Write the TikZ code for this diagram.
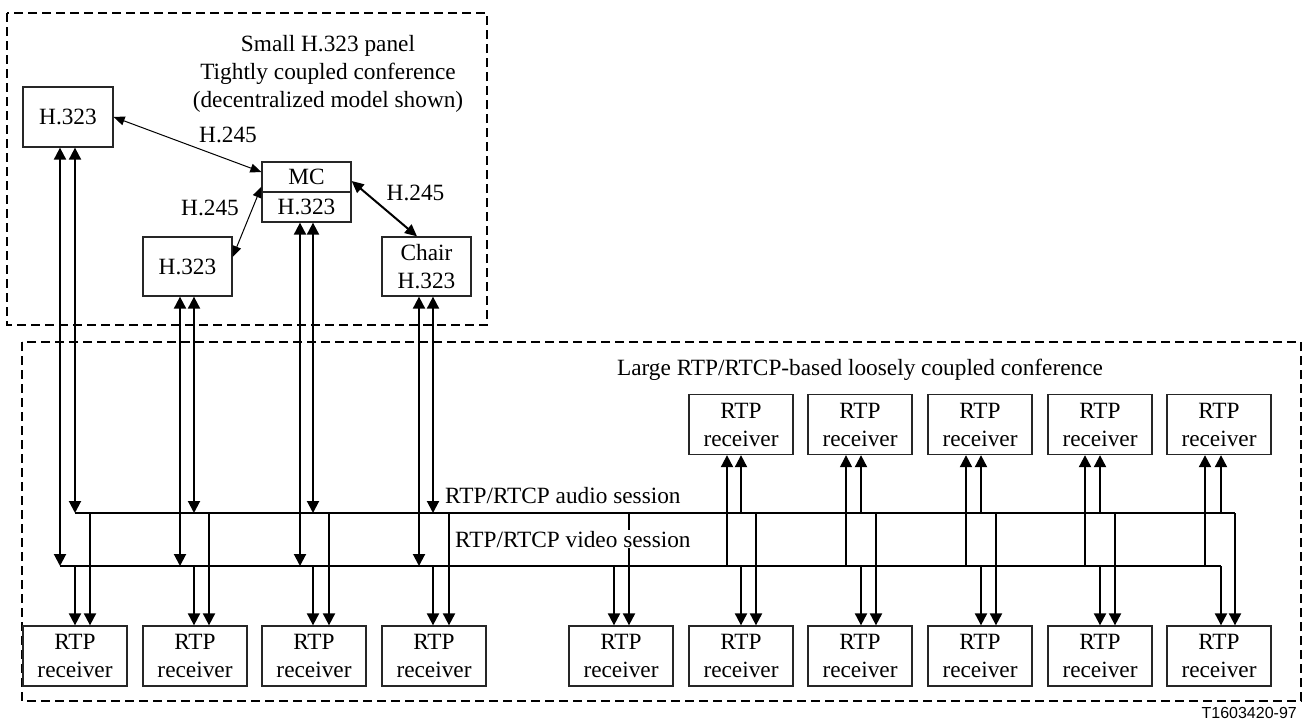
\documentclass[tikz,border=0pt]{standalone}
\usepackage{fontspec}
\setmainfont{Liberation Serif}
\newfontfamily\labelsans{Liberation Sans}
\usetikzlibrary{arrows.meta,calc}
\tikzset{
  box/.style={draw=black!85, line width=1.3pt, inner sep=0pt, align=center},
  hbox/.style={box, minimum width=89pt, minimum height=59pt},
  rbox/.style={box, minimum width=104pt, minimum height=60pt},
  panel/.style={draw=black, line width=2pt, dash pattern=on 9pt off 5pt},
  sline/.style={draw=black, line width=2pt},
  tipA/.tip={Triangle[length=12pt,width=12pt]},
  dbl/.style={sline, tipA-tipA},
  down/.style={sline, -tipA},
  thinarr/.style={draw=black, line width=1pt, {Triangle[length=11pt,width=9pt]}-{Triangle[length=11pt,width=9pt]}},
  medarr/.style={draw=black, line width=2pt, {Triangle[length=12pt,width=11pt]}-{Triangle[length=12pt,width=11pt]}},
  lbl/.style={inner sep=0pt}
}
\begin{document}
\begin{tikzpicture}[x=1pt,y=-1pt,font=\fontsize{23.3}{28}\selectfont]
\useasboundingbox (0,0) rectangle (1305,720);
% panels
\draw[panel] (7,13) rectangle (487,325);
\draw[panel] (22,342) rectangle (1301,701);
% titles
\node[lbl, align=center, anchor=base] (ttl) at (328,107) {Small H.323 panel\\Tightly coupled conference\\(decentralized model shown)};
\node[lbl, anchor=base] (ttl2) at (860,375) {Large RTP/RTCP-based loosely coupled conference};
% H.323 boxes
\node[box, minimum width=90pt, minimum height=60pt] (h1) at (68,117) {H.323};
\node[box, minimum width=89pt, minimum height=30pt] (mcT) at (306.5,177) {MC};
\node[box, minimum width=89pt, minimum height=30pt] (mcB) at (306.5,207) {H.323};
\node[hbox] (h2) at (187.5,266.5) {H.323};
\node[hbox] (ch) at (426.5,266.5) {Chair\\H.323};
% H.245 arrows
\draw[thinarr] (h1.east) -- ([yshift=5pt]mcT.west);
\draw[thinarr] ([yshift=6pt]mcT.south west) -- ([yshift=9.5pt]h2.east);
\draw[medarr] ([yshift=-4pt]mcT.east) -- ([xshift=-9.5pt]ch.north);
\node[lbl, anchor=base] (l1) at (228,142) {H.245};
\node[lbl, anchor=base] (l2) at (210,215) {H.245};
\node[lbl, anchor=base] (l3) at (415.5,200) {H.245};
% session lines
\coordinate (aS) at (75,513);
\coordinate (aE) at (1235,513);
\coordinate (vS) at (60,566);
\coordinate (vE) at (1221,566);
\draw[sline] (aS) -- (aE);
\draw[sline] (vS) -- (vE);
% receivers bottom
\foreach \n/\x in {1/23,2/143,3/262,4/382,5/569,6/689,7/808,8/928,9/1048,10/1167}{
  \node[rbox] (r\n) at (\x+52,656) {RTP\\receiver};
}
% receivers top
\foreach \n/\x in {1/689,2/808,3/928,4/1048,5/1167}{
  \node[rbox] (t\n) at (\x+52,424.5) {RTP\\receiver};
}
% H.323 terminals to sessions
\foreach \b/\vx/\ax in {h1/60/75,h2/180/194,mcB/300/313,ch/419/433}{
  \draw[dbl] (\vx,0 |- \b.south) -- (\vx,0 |- vS);
  \draw[dbl] (\ax,0 |- \b.south) -- (\ax,0 |- aS);
}
% sessions to bottom receivers
\foreach \n/\vx/\ax in {1/75/90,2/194/209,3/313/329,4/433/449,5/614/629,6/741/756,7/861/876,8/981/996,9/1100/1115,10/1221/1235}{
  \draw[down] (\vx,0 |- vS) -- (\vx,0 |- r\n.north);
  \draw[down] (\ax,0 |- aS) -- (\ax,0 |- r\n.north);
}
% sessions to top receivers
\foreach \n/\vx/\ax in {1/727/741,3/966/981,4/1085/1100,5/1205/1221}{
  \draw[down] (\vx,0 |- vS) -- (\vx,0 |- t\n.south);
  \draw[down] (\ax,0 |- aS) -- (\ax,0 |- t\n.south);
}
\draw[draw=black, line width=1.2pt, -tipA] (846,0 |- vS) -- (846,0 |- t2.south);
\draw[down] (861,0 |- aS) -- (861,0 |- t2.south);
% session labels
\node[lbl, anchor=base west] (as) at (445,503) {RTP/RTCP audio session};
\node[lbl, anchor=base west, fill=white, inner xsep=0pt, inner ysep=1pt] (vs) at (455,547) {RTP/RTCP video session};
% figure id
\node[lbl, anchor=base east, font=\labelsans\fontsize{16}{19}\selectfont] (fid) at (1297,718.5) {T1603420-97};
\end{tikzpicture}
\end{document}
